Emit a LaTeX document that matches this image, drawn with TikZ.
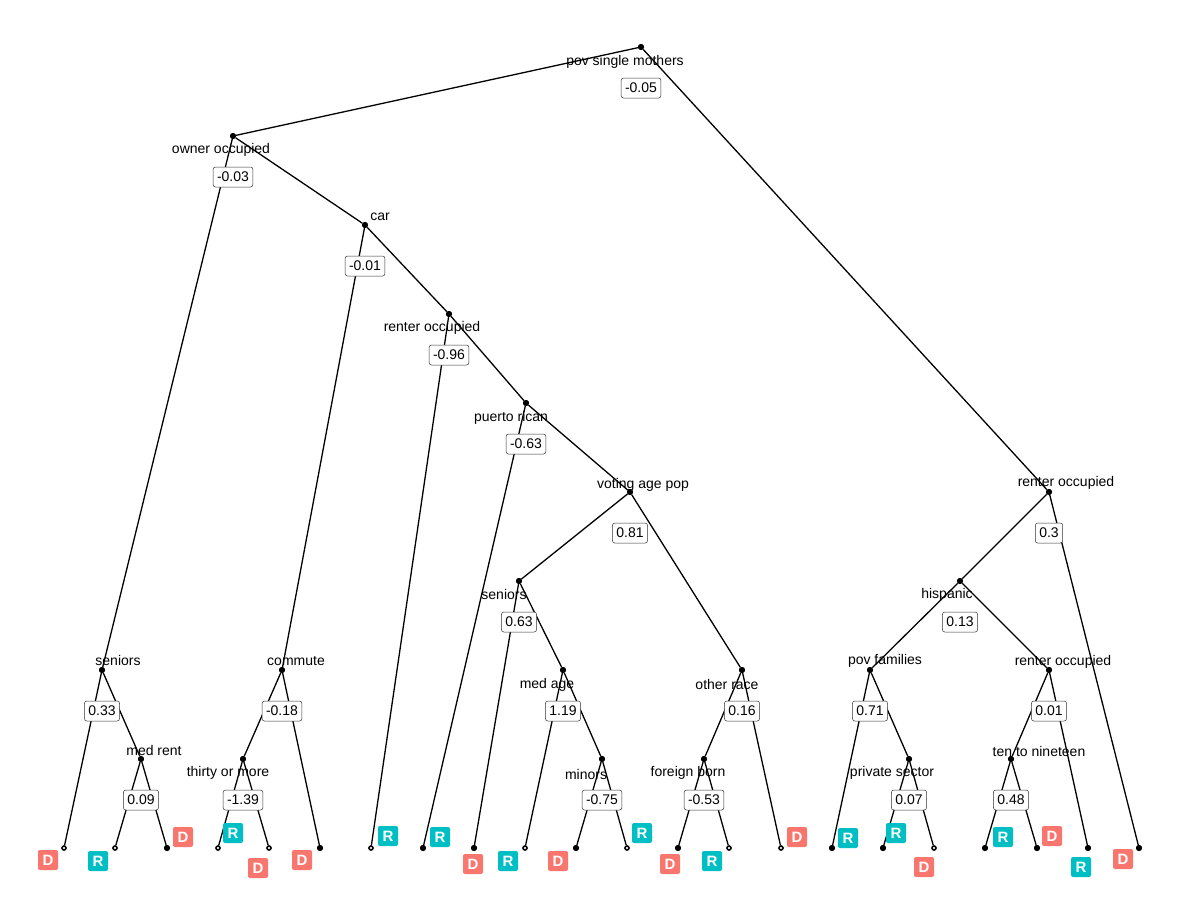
\documentclass[tikz,border=0pt]{standalone}
\usepackage{fontspec}
\setmainfont{Liberation Sans}
\definecolor{demred}{HTML}{F8766D}
\definecolor{repcyan}{HTML}{00BFC4}
\begin{document}
\begin{tikzpicture}[x=1pt,y=-1pt,
  dot/.style={circle,fill=black,inner sep=0pt,minimum size=6pt},
  ring/.style={circle,draw=black,fill=white,line width=1.6pt,inner sep=0pt,minimum size=4pt},
  edge/.style={line width=1.3pt,black},
  split/.style={font=\fontsize{14}{16}\selectfont,inner sep=0pt,anchor=center,yshift=-1.5pt},
  weight/.style={draw=black!80,line width=0.5pt,rounded corners=2.5pt,fill=white,
    font=\fontsize{14}{16}\selectfont,inner xsep=4pt,inner ysep=3pt,minimum height=20pt},
  party/.style={rounded corners=2pt,text=white,font=\fontsize{15}{17}\selectfont\bfseries,
    minimum size=20pt,inner sep=0pt},
  dem/.style={party,fill=demred},
  rep/.style={party,fill=repcyan}]
\useasboundingbox (0,0) rectangle (1200,900);

% internal split points
\node[dot] (n1)  at (641,47)  {};
\node[dot] (n2)  at (233,136) {};
\node[dot] (n3)  at (365,225) {};
\node[dot] (n4)  at (449,314) {};
\node[dot] (n5)  at (526,403) {};
\node[dot] (n6)  at (630,492) {};
\node[dot] (n7)  at (519,581) {};
\node[dot] (n8)  at (563,670) {};
\node[dot] (n9)  at (602,759) {};
\node[dot] (n10) at (742,670) {};
\node[dot] (n11) at (704,759) {};
\node[dot] (n12) at (1049,492) {};
\node[dot] (n13) at (960,581) {};
\node[dot] (n14) at (870,670) {};
\node[dot] (n15) at (909,759) {};
\node[dot] (n16) at (1049,670) {};
\node[dot] (n17) at (1011,759) {};
\node[dot] (n18) at (102,670) {};
\node[dot] (n19) at (141,759) {};
\node[dot] (n20) at (282,670) {};
\node[dot] (n21) at (243,759) {};

% leaves
\node[ring] (l1)  at (64,848) {};
\node[ring] (l2)  at (115,848) {};
\node[dot]  (l3)  at (167,848) {};
\node[ring] (l4)  at (218,848) {};
\node[ring] (l5)  at (269,848) {};
\node[dot]  (l6)  at (320,848) {};
\node[ring] (l7)  at (371,848) {};
\node[dot]  (l8)  at (423,848) {};
\node[dot]  (l9)  at (474,848) {};
\node[ring] (l10) at (525,848) {};
\node[dot]  (l11) at (576,848) {};
\node[ring] (l12) at (627,848) {};
\node[dot]  (l13) at (678,848) {};
\node[ring] (l14) at (729,848) {};
\node[ring] (l15) at (781,848) {};
\node[dot]  (l16) at (832,848) {};
\node[dot]  (l17) at (883,848) {};
\node[ring] (l18) at (934,848) {};
\node[dot]  (l19) at (985,848) {};
\node[dot]  (l20) at (1037,848) {};
\node[dot]  (l21) at (1088,848) {};
\node[dot]  (l22) at (1139,848) {};

% branches
\begin{scope}[edge]
\draw (n1) -- (n2);   \draw (n1) -- (n12);
\draw (n2) -- (n18);  \draw (n2) -- (n3);
\draw (n18) -- (l1);  \draw (n18) -- (n19);
\draw (n19) -- (l2);  \draw (n19) -- (l3);
\draw (n3) -- (n20);  \draw (n3) -- (n4);
\draw (n20) -- (n21); \draw (n20) -- (l6);
\draw (n21) -- (l4);  \draw (n21) -- (l5);
\draw (n4) -- (l7);   \draw (n4) -- (n5);
\draw (n5) -- (l8);   \draw (n5) -- (n6);
\draw (n6) -- (n7);   \draw (n6) -- (n10);
\draw (n7) -- (l9);   \draw (n7) -- (n8);
\draw (n8) -- (l10);  \draw (n8) -- (n9);
\draw (n9) -- (l11);  \draw (n9) -- (l12);
\draw (n10) -- (n11); \draw (n10) -- (l15);
\draw (n11) -- (l13); \draw (n11) -- (l14);
\draw (n12) -- (n13); \draw (n12) -- (l22);
\draw (n13) -- (n14); \draw (n13) -- (n16);
\draw (n14) -- (l16); \draw (n14) -- (n15);
\draw (n15) -- (l17); \draw (n15) -- (l18);
\draw (n16) -- (n17); \draw (n16) -- (l21);
\draw (n17) -- (l19); \draw (n17) -- (l20);
\end{scope}

% redraw points above the branches
\foreach \n in {n1,n2,n3,n4,n5,n6,n7,n8,n9,n10,n11,n12,n13,n14,n15,n16,n17,n18,n19,n20,n21,l3,l6,l8,l9,l11,l13,l16,l17,l19,l20,l21,l22}
  \fill (\n) circle (3pt);

% split variable names
\node[split] (t1)  at (625,60)  {pov single mothers};
\node[split] (t2)  at (221,148) {owner occupied};
\node[split] (t3)  at (380,215) {car};
\node[split] (t4)  at (432,326) {renter occupied};
\node[split] (t5)  at (511,416) {puerto rican};
\node[split] (t6)  at (643,483) {voting age pop};
\node[split] (t7)  at (504,593) {seniors};
\node[split] (t8)  at (547,683) {med age};
\node[split] (t9)  at (586,773) {minors};
\node[split] (t10) at (727,683) {other race};
\node[split] (t11) at (688,771) {foreign born};
\node[split] (t12) at (1066,481) {renter occupied};
\node[split] (t13) at (947,593) {hispanic};
\node[split] (t14) at (885,659) {pov families};
\node[split] (t15) at (892,771) {private sector};
\node[split] (t16) at (1063,660) {renter occupied};
\node[split] (t17) at (1039,750) {ten to nineteen};
\node[split] (t18) at (118,659) {seniors};
\node[split] (t19) at (154,749) {med rent};
\node[split] (t20) at (296,660) {commute};
\node[split] (t21) at (228,771) {thirty or more};

% split values
\node[weight] (w1)  at (641,88)  {-0.05};
\node[weight] (w2)  at (233,177) {-0.03};
\node[weight] (w3)  at (365,266) {-0.01};
\node[weight] (w4)  at (449,355) {-0.96};
\node[weight] (w5)  at (526,444) {-0.63};
\node[weight] (w6)  at (630,533) {0.81};
\node[weight] (w7)  at (519,622) {0.63};
\node[weight] (w8)  at (563,711) {1.19};
\node[weight] (w9)  at (602,800) {-0.75};
\node[weight] (w10) at (742,711) {0.16};
\node[weight] (w11) at (704,800) {-0.53};
\node[weight] (w12) at (1049,533) {0.3};
\node[weight] (w13) at (960,622) {0.13};
\node[weight] (w14) at (870,711) {0.71};
\node[weight] (w15) at (909,800) {0.07};
\node[weight] (w16) at (1049,711) {0.01};
\node[weight] (w17) at (1011,800) {0.48};
\node[weight] (w18) at (102,711) {0.33};
\node[weight] (w19) at (141,800) {0.09};
\node[weight] (w20) at (282,711) {-0.18};
\node[weight] (w21) at (243,800) {-1.39};

% leaf outcomes
\node[dem] (p1)  at (48,860)   {D};
\node[rep] (p2)  at (98,861)   {R};
\node[dem] (p3)  at (183,837)  {D};
\node[rep] (p4)  at (233,833)  {R};
\node[dem] (p5)  at (258,868)  {D};
\node[dem] (p6)  at (302,860)  {D};
\node[rep] (p7)  at (388,836)  {R};
\node[rep] (p8)  at (440,837)  {R};
\node[dem] (p9)  at (473,864)  {D};
\node[rep] (p10) at (508,861)  {R};
\node[dem] (p11) at (558,861)  {D};
\node[rep] (p12) at (642,833)  {R};
\node[dem] (p13) at (670,864)  {D};
\node[rep] (p14) at (712,861)  {R};
\node[dem] (p15) at (797,837)  {D};
\node[rep] (p16) at (848,838)  {R};
\node[rep] (p17) at (896,833)  {R};
\node[dem] (p18) at (924,867)  {D};
\node[rep] (p19) at (1003,837) {R};
\node[dem] (p20) at (1052,836) {D};
\node[rep] (p21) at (1081,867) {R};
\node[dem] (p22) at (1123,859) {D};
\end{tikzpicture}
\end{document}
